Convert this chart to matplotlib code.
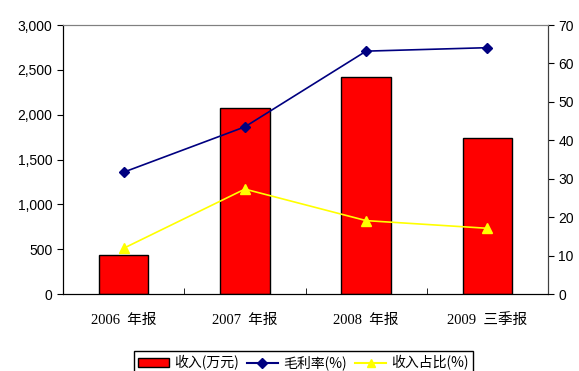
import matplotlib.pyplot as plt
from matplotlib.ticker import FuncFormatter, MultipleLocator
from matplotlib.lines import Line2D
from matplotlib.patches import Patch

categories = ["2006  年报", "2007  年报", "2008  年报", "2009  三季报"]
revenue = [430, 2080, 2420, 1735]          # 收入(万元)
gross_margin = [31.7, 43.5, 63.2, 64.1]    # 毛利率(%)
revenue_share = [11.9, 27.3, 19.1, 17.1]   # 收入占比(%)

plt.rcParams["font.family"] = ["Liberation Sans", "Noto Sans CJK SC", "DejaVu Sans"]

fig = plt.figure(figsize=(5.79, 3.71), dpi=100)
ax = fig.add_axes([0.1088, 0.2075, 0.8377, 0.7251])
x = range(len(categories))

ax.bar(x, revenue, width=0.41, color="#FF0000", edgecolor="black", linewidth=1.0, zorder=2)
ax.set_xlim(-0.5, 3.5)
ax.set_ylim(0, 3000)
ax.yaxis.set_major_locator(MultipleLocator(500))
ax.yaxis.set_major_formatter(FuncFormatter(lambda v, p: f"{int(v):,}"))
ax.set_xticks(x)
ax.set_xticklabels(categories, family=["Liberation Serif", "Noto Sans CJK SC"], fontsize=10.5)
ax.tick_params(axis="x", length=0, pad=14)
ax.set_xticks([0.5, 1.5, 2.5], minor=True)
ax.tick_params(axis="x", which="minor", direction="in", length=4)
ax.tick_params(axis="y", direction="out", length=4, labelsize=10)

ax2 = ax.twinx()
ax2.plot(x, gross_margin, color="#000080", marker="D", markersize=5.5, linewidth=1.2, zorder=3)
ax2.plot(x, revenue_share, color="#FFFF00", marker="^", markersize=7, linewidth=1.2, zorder=3)
ax2.set_ylim(0, 70)
ax2.yaxis.set_major_locator(MultipleLocator(10))
ax2.tick_params(axis="y", direction="out", length=4, labelsize=10)

for a in (ax, ax2):
    a.spines["top"].set_color("#808080")
    a.spines["right"].set_color("#404040")
    a.spines["left"].set_color("black")
    a.spines["bottom"].set_color("black")

handles = [
    Patch(facecolor="#FF0000", edgecolor="black", linewidth=1.0),
    Line2D([], [], color="#000080", marker="D", markersize=5),
    Line2D([], [], color="#FFFF00", marker="^", markersize=6),
]
labels = ["收入(万元)", "毛利率(%)", "收入占比(%)"]
leg = fig.legend(handles, labels, loc="upper center", bbox_to_anchor=(0.524, 0.072),
                 ncol=3, fancybox=False, edgecolor="black",
                 handlelength=2.2, handletextpad=0.4, columnspacing=0.6,
                 borderpad=0.3, framealpha=1,
                 prop={"family": ["Noto Sans CJK SC"], "size": 10})
leg.get_frame().set_linewidth(1.0)

fig.savefig("out.png", dpi=100)
